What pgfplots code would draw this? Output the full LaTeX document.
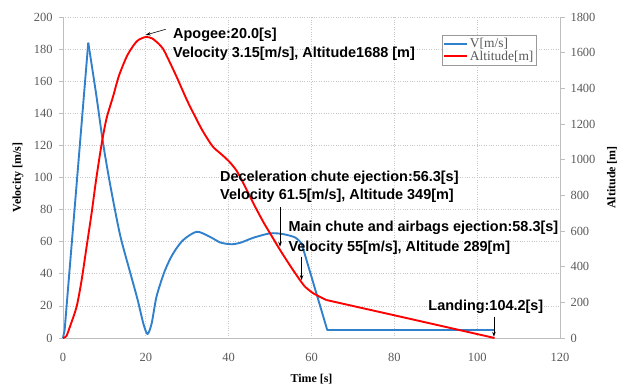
\documentclass[border=0pt]{standalone}
\usepackage{fontspec}
\setmainfont{Liberation Serif}
\newfontfamily\annfont{Liberation Sans}
\usepackage{pgfplots}
\usepackage{pgfplotstable}
\pgfplotsset{compat=1.18}
\usetikzlibrary{arrows.meta}
\definecolor{vblue}{RGB}{48,128,204}
\definecolor{tickgray}{RGB}{89,89,89}
\definecolor{gridgray}{RGB}{200,200,200}
\definecolor{axgray}{RGB}{190,190,190}

% velocity [m/s]: launch segment (straight)
\pgfplotstableread{
t v
0 0
0.4 5
1 24
6.1 184
}\velA
% velocity: coasting / descent segment (smooth)
\pgfplotstableread{
t v
6.1 184
8 152
9.7 121
11.5 94
13.8 64
16.2 41
18 24
19.4 9
20.4 2.5
21.4 9
22.6 26
24.6 42
26.6 52.7
29 61
32.3 66.2
35.5 63
38 59.5
40.7 58.4
43 59.5
46 62.5
50 65.2
53 64.8
56 62.7
57.6 59
}\velB
% velocity: chute segment (straight)
\pgfplotstableread{
t v
57.6 59
63.8 5
104.2 5
}\velC

% altitude [m]
\pgfplotstableread{
t a
0 0
0.8 10
1.7 65
3.3 177
4.5 325
5.7 512
6.9 699
8.0 888
9.3 1084
10.5 1230
12.1 1355
13.5 1470
15.4 1579
17 1640
18.2 1671
20 1688
21.5 1680
23 1652
24.2 1620
25.5 1560
27.4 1466
29.9 1335
31.5 1260
33.5 1170
35.5 1095
36.5 1065
38.5 1025
40.3 985
42 935
43.5 870
45 800
46.8 718
48.5 645
50 587
52.4 494
55 400
57.2 325
58.4 288
}\altA
\pgfplotstableread{
t a
58.4 288
60.4 251
63.6 213
}\altB
\pgfplotstableread{
t a
63.6 213
81.4 120
104.2 0
}\altC

\begin{document}
\begin{tikzpicture}
\path[use as bounding box] (-63bp,-49bp) rectangle (555bp,338bp);
% left axis: velocity scale, grid, time axis
\begin{axis}[
  at={(0,0)}, anchor=south west,
  scale only axis, width=497bp, height=321bp,
  xmin=0, xmax=120, ymin=0, ymax=200,
  xtick={0,20,...,120}, ytick={0,20,...,200},
  axis x line*=bottom, axis y line*=left,
  xtick pos=bottom, ytick pos=left,
  axis line style={draw=axgray, line width=0.8pt, -},
  x axis line style={-}, y axis line style={-},
  grid=major, grid style={gridgray, dotted, line width=0.7pt},
  xtick style={draw=none},
  ytick style={draw=axgray, line width=0.8pt},
  tick align=outside, major tick length=4bp,
  ticklabel style={font=\fontsize{12.5}{14}\selectfont, text=tickgray},
  /pgf/number format/assume math mode=true,
  /pgf/number format/1000 sep={},
  xticklabel style={yshift=-8bp},
  yticklabel style={xshift=-3bp},
  xlabel={Time [s]}, ylabel={Velocity [m/s]},
  label style={font=\fontsize{12}{14}\selectfont\bfseries},
  xlabel style={at={(axis description cs:0.5,-0.128)}, anchor=center},
  ylabel style={at={(axis description cs:-0.0905,0.5)}, anchor=center, rotate=0},
]
\addplot[draw=none, forget plot] coordinates {(0,0)};
\end{axis}
% right axis: altitude scale; velocity drawn with factor 1800/200 = 9
\begin{axis}[
  at={(0,0)}, anchor=south west,
  scale only axis, width=497bp, height=321bp,
  xmin=0, xmax=120, ymin=0, ymax=1800,
  ytick={0,200,...,1800},
  axis x line=none, axis y line*=right, ytick pos=right,
  axis line style={draw=axgray, line width=0.8pt, -},
  y axis line style={-},
  ytick style={draw=axgray, line width=0.8pt},
  tick align=outside, major tick length=5bp,
  ticklabel style={font=\fontsize{12.5}{14}\selectfont, text=tickgray},
  /pgf/number format/assume math mode=true,
  /pgf/number format/1000 sep={},
  yticklabel style={xshift=2bp},
  ylabel={Altitude [m]},
  label style={font=\fontsize{12}{14}\selectfont\bfseries},
  ylabel style={at={(axis description cs:1.1046,0.5)}, anchor=center, rotate=0},
  clip=false,
  legend style={at={(axis description cs:0.953,0.944)}, anchor=north east,
    draw=gray!80, fill=white, inner sep=1pt, row sep=-2pt,
    font=\fontsize{13.5}{13.5}\selectfont\color{tickgray}, cells={anchor=west}},
  legend image code/.code={\draw[#1] (0bp,0bp) -- (23bp,0bp);},
]
\addplot[vblue, line width=1.9pt, line join=round] table[x=t, y expr=\thisrow{v}*9]{\velA};
\addlegendentry{V[m/s]}
\addplot[vblue, line width=1.9pt, line join=round, smooth, tension=0.45, forget plot] table[x=t, y expr=\thisrow{v}*9]{\velB};
\addplot[vblue, line width=1.9pt, line join=round, forget plot] table[x=t, y expr=\thisrow{v}*9]{\velC};
\addplot[red, line width=1.9pt, line join=round, smooth, tension=0.45] table[x=t,y=a]{\altA};
\addlegendentry{Altitude[m]}
\addplot[red, line width=1.9pt, line join=round, smooth, tension=0.45, forget plot] table[x=t,y=a]{\altB};
\addplot[red, line width=1.9pt, line join=round, forget plot] table[x=t,y=a]{\altC};

\tikzset{ann/.style={anchor=base west, inner sep=0pt, font=\annfont\bfseries\fontsize{14.5}{17}\selectfont},
  arr/.style={black, line width=0.6pt, -{Stealth[length=5pt,width=3.5pt]}}}
\node[ann] at (axis cs:26.56,1679) {Apogee:20.0[s]};
\node[ann] at (axis cs:26.56,1573) {Velocity 3.15[m/s], Altitude1688 [m]};
\draw[arr] (axis cs:24.8,1731) -- (axis cs:19.97,1699);
\node[ann] at (axis cs:37.9,880) {Deceleration chute ejection:56.3[s]};
\node[ann] at (axis cs:37.9,777) {Velocity 61.5[m/s], Altitude 349[m]};
\draw[arr] (axis cs:52.4,733) -- (axis cs:52.4,512);
\node[ann] at (axis cs:54.4,596) {Main chute and airbags ejection:58.3[s]};
\node[ann] at (axis cs:54.4,484) {Velocity 55[m/s], Altitude 289[m]};
\draw[arr] (axis cs:57.6,456) -- (axis cs:57.6,325);
\node[ann] at (axis cs:88.2,157) {Landing:104.2[s]};
\draw[arr] (axis cs:104.05,120) -- (axis cs:104.05,7);
\end{axis}
\end{tikzpicture}
\end{document}
